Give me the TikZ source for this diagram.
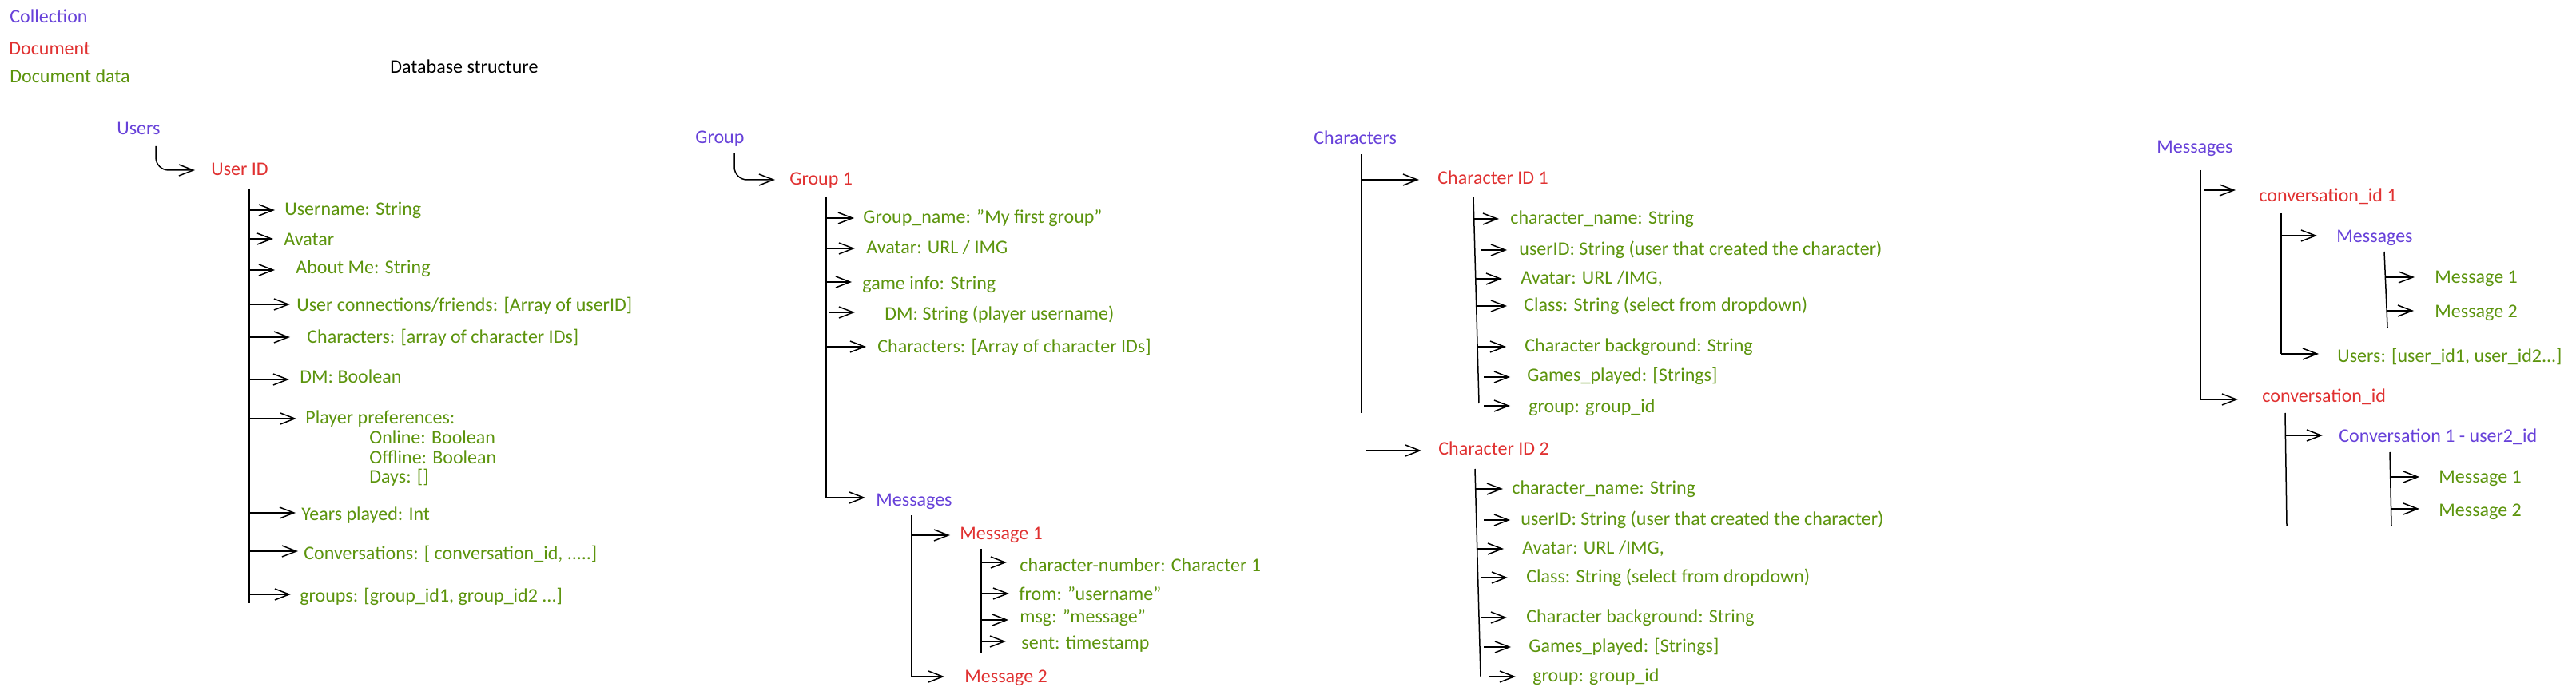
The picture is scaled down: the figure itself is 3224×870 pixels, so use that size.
\documentclass[tikz,border=0pt]{standalone}
\usepackage{fontspec}
\setmainfont{Carlito}
\usetikzlibrary{arrows.meta,calc}
\definecolor{cviolet}{HTML}{6741D9}
\definecolor{cred}{HTML}{E03131}
\definecolor{cgreen}{HTML}{5C940D}
\newcommand{\dq}{\symbol{34}}
\newcommand{\dbleaf}[8]{%
  \node[#2] (#1) at (#3,#4) {#5};
  \coordinate (#1-s) at (#6,#7);
  \draw[arr] (#1-s) -- ($(#1.west |- #1-s)+(-#8,0)$);
}
\tikzset{
  arr/.style={-{Straight Barb[length=9pt,width=7pt]}, line width=0.75pt},
  ln/.style={line width=0.75pt},
  txt/.style={anchor=west, inner sep=0pt, font=\fontsize{12}{14}\selectfont, text height=8.6pt, text depth=2.2pt},
  coll/.style={txt, text=cviolet},
  doc/.style={txt, text=cred},
  dd/.style={txt, text=cgreen},
  ttl/.style={txt, text=black}
}
\begin{document}
\begin{tikzpicture}[x=0.5pt,y=-0.5pt]
\useasboundingbox (0,0) rectangle (3224,870);
% legend
\node[coll] (lgc) at (12,22) {Collection};
\node[doc] (lgd) at (11,62) {Document};
\node[dd] (lgdd) at (12,97) {Document data};
\node[ttl] (title) at (488,85) {Database structure};

% ---------- Users ----------
\node[coll] (users) at (146,162) {Users};
\node[doc] (uid) at (264,213) {User ID};
\coordinate (u-s) at (195,183);
\draw[arr, rounded corners=8pt] (u-s) -- (u-s |- uid.west) -- ($(uid.west)+(-20,0)$);
\coordinate (uL-t) at (312,236);
\coordinate (uL-b) at (312,755);
\draw[ln] (uL-t) -- (uL-b);
\dbleaf{u1}{dd}{356}{263}{Username: String}{312}{263}{12}
\dbleaf{u2}{dd}{355}{301}{Avatar}{312}{299}{13}
\dbleaf{u3}{dd}{370}{336}{About Me: String}{312}{338}{26}
\dbleaf{u4}{dd}{371}{383}{User connections/friends: [Array of userID]}{312}{381}{8}
\dbleaf{u5}{dd}{384}{423}{Characters: [array of character IDs]}{312}{422}{21}
\dbleaf{u6}{dd}{375}{473}{DM: Boolean}{312}{475}{13}
\dbleaf{u7}{dd}{382}{524}{Player preferences:}{312}{524}{11}
\node[dd] (u7a) at (462,549) {Online: Boolean};
\node[dd] (u7b) at (462,574) {Offline: Boolean};
\node[dd] (u7c) at (462,598) {Days: []};
\dbleaf{u8}{dd}{377}{645}{Years played: Int}{312}{642}{7}
\dbleaf{u9}{dd}{380}{694}{Conversations: [ conversation\_id, .....]}{312}{690}{7}
\dbleaf{u10}{dd}{375}{747}{groups: [group\_id1, group\_id2 ...]}{312}{744}{11}

% ---------- Group ----------
\node[coll] (grp) at (870,173) {Group};
\node[doc] (g1d) at (988,225) {Group 1};
\coordinate (g-s) at (919,192);
\draw[arr, rounded corners=8pt] (g-s) -- (g-s |- g1d.west) -- ($(g1d.west)+(-18,0)$);
\coordinate (gL-t) at (1034,246);
\coordinate (gL-b) at (1034,623);
\draw[ln] (gL-t) -- (gL-b);
\dbleaf{g1}{dd}{1080}{273}{Group\_name: \dq My first group\dq}{1034}{273}{11}
\dbleaf{g2}{dd}{1084}{311}{Avatar: URL / IMG}{1034}{311}{14}
\dbleaf{g3}{dd}{1079}{356}{game info: String}{1034}{353}{13}
\dbleaf{g4}{dd}{1107}{394}{DM: String (player username)}{1037}{391}{37}
\dbleaf{g5}{dd}{1098}{435}{Characters: [Array of character IDs]}{1034}{434}{14}
\dbleaf{gm}{coll}{1096}{627}{Messages}{1034}{623}{13}
\coordinate (mL-t) at (1141,645);
\coordinate (mL-b) at (1141,847);
\draw[ln] (mL-t) -- (mL-b);
\dbleaf{m1}{doc}{1201}{669}{Message 1}{1141}{670}{12}
\dbleaf{m2}{doc}{1207}{848}{Message 2}{1141}{847}{25}
\coordinate (fL-t) at (1228,687);
\coordinate (fL-b) at (1228,818);
\draw[ln] (fL-t) -- (fL-b);
\dbleaf{f1}{dd}{1276}{709}{character-number: Character 1}{1228}{704}{16}
\dbleaf{f2}{dd}{1275}{745}{from: \dq username\dq}{1228}{743}{12}
\dbleaf{f3}{dd}{1276}{773}{msg: \dq message\dq}{1228}{776}{14}
\dbleaf{f4}{dd}{1278}{806}{sent: timestamp}{1228}{803}{19}

% ---------- Characters ----------
\node[coll] (chars) at (1644,174) {Characters};
\coordinate (cL-t) at (1704,193);
\coordinate (cL-b) at (1704,517);
\draw[ln] (cL-t) -- (cL-b);
\dbleaf{c1}{doc}{1799}{224}{Character ID 1}{1704}{225}{23}
\coordinate (aL-t) at (1844,247);
\coordinate (aL-b) at (1851,505);
\draw[ln] (aL-t) -- (aL-b);
\dbleaf{a1}{dd}{1890}{274}{character\_name: String}{1845}{274}{14}
\dbleaf{a2}{dd}{1901}{313}{userID: String (user that created the character)}{1854}{313}{15}
\dbleaf{a3}{dd}{1903}{349}{Avatar: URL /IMG,}{1846}{349}{23}
\dbleaf{a4}{dd}{1907}{383}{Class: String (select from dropdown)}{1847}{383}{21}
\dbleaf{a5}{dd}{1908}{434}{Character background: String}{1848}{434}{23}
\dbleaf{a6}{dd}{1911}{471}{Games\_played: [Strings]}{1857}{472}{21}
\dbleaf{a7}{dd}{1913}{510}{group: group\_id}{1857}{508}{23}
\dbleaf{c2}{doc}{1800}{563}{Character ID 2}{1709}{564}{21}
\coordinate (bL-t) at (1846,587);
\coordinate (bL-b) at (1853,847);
\draw[ln] (bL-t) -- (bL-b);
\dbleaf{b1}{dd}{1892}{612}{character\_name: String}{1847}{612}{11}
\dbleaf{b2}{dd}{1903}{651}{userID: String (user that created the character)}{1857}{651}{13}
\dbleaf{b3}{dd}{1905}{687}{Avatar: URL /IMG,}{1848}{687}{23}
\dbleaf{b4}{dd}{1910}{723}{Class: String (select from dropdown)}{1854}{723}{23}
\dbleaf{b5}{dd}{1910}{773}{Character background: String}{1854}{773}{24}
\dbleaf{b6}{dd}{1913}{810}{Games\_played: [Strings]}{1857}{810}{22}
\dbleaf{b7}{dd}{1918}{847}{group: group\_id}{1863}{847}{21}

% ---------- Messages ----------
\node[coll] (msgs) at (2699,185) {Messages};
\coordinate (kL-t) at (2754,213);
\coordinate (kL-b) at (2754,500);
\draw[ln] (kL-t) -- (kL-b);
\dbleaf{k1}{doc}{2827}{246}{conversation\_id 1}{2758}{238}{29}
\coordinate (k1L-t) at (2855,267);
\coordinate (k1L-b) at (2855,443);
\draw[ln] (k1L-t) -- (k1L-b);
\dbleaf{k1m}{coll}{2924}{297}{Messages}{2855}{295}{24}
\coordinate (k1mL-t) at (2984,315);
\coordinate (k1mL-b) at (2988,410);
\draw[ln] (k1mL-t) -- (k1mL-b);
\dbleaf{k1a}{dd}{3047}{348}{Message 1}{2986}{347}{25}
\dbleaf{k1b}{dd}{3047}{391}{Message 2}{2988}{389}{26}
\dbleaf{k1u}{dd}{2925}{447}{Users: [user\_id1, user\_id2...]}{2855}{443}{23}
\dbleaf{k2}{doc}{2831}{497}{conversation\_id}{2754}{500}{30}
\coordinate (k2L-t) at (2860,517);
\coordinate (k2L-b) at (2862,658);
\draw[ln] (k2L-t) -- (k2L-b);
\dbleaf{k2c}{coll}{2927}{547}{Conversation 1 - user2\_id}{2861}{545}{20}
\coordinate (k2cL-t) at (2991,566);
\coordinate (k2cL-b) at (2993,659);
\draw[ln] (k2cL-t) -- (k2cL-b);
\dbleaf{k2a}{dd}{3052}{598}{Message 1}{2992}{597}{24}
\dbleaf{k2b}{dd}{3052}{640}{Message 2}{2993}{637}{24}
\end{tikzpicture}
\end{document}
